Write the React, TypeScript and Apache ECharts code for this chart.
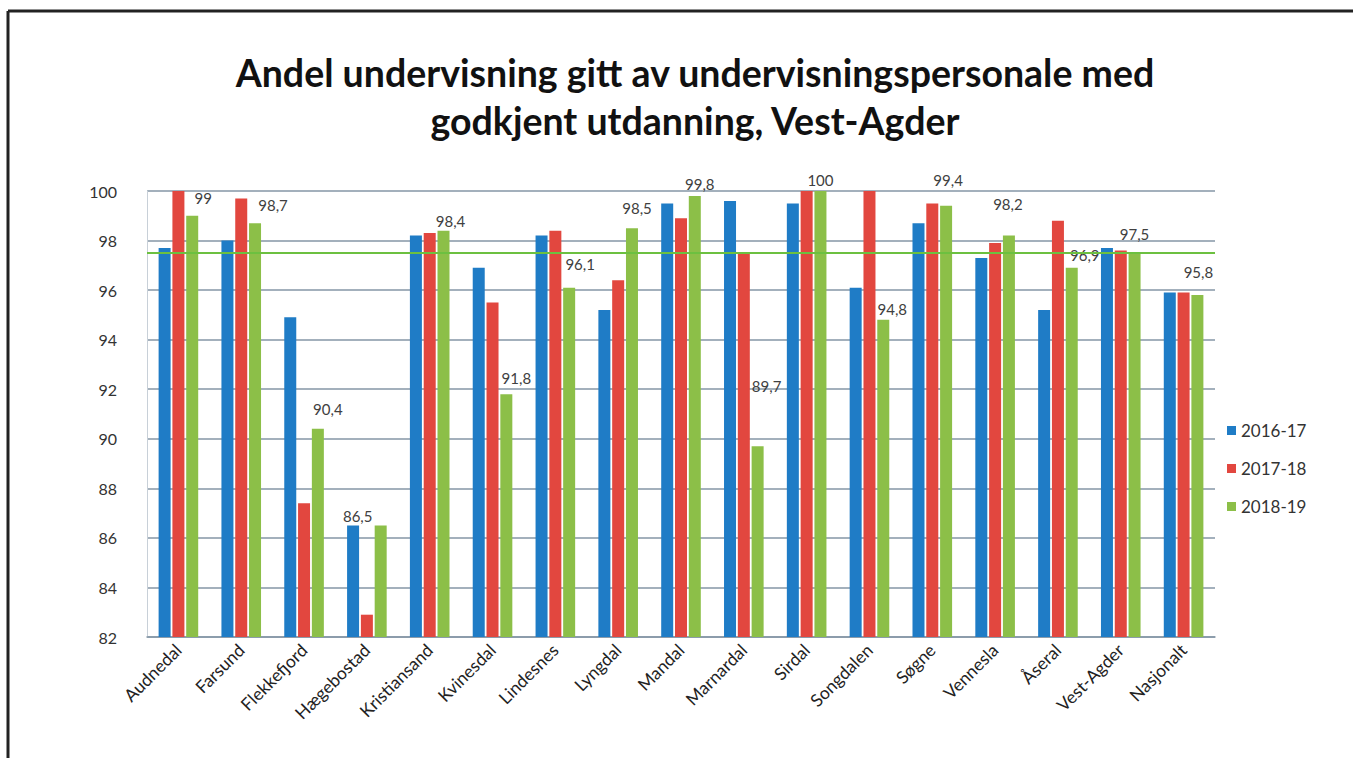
import React, { useEffect, useRef } from "react";
import * as echarts from "echarts";

const categories = [
  "Audnedal", "Farsund", "Flekkefjord", "Hægebostad", "Kristiansand", "Kvinesdal",
  "Lindesnes", "Lyngdal", "Mandal", "Marnardal", "Sirdal", "Songdalen", "Søgne",
  "Vennesla", "Åseral", "Vest-Agder", "Nasjonalt",
];
const seriesNames = ["2016-17", "2017-18", "2018-19"];
const s2016 = [97.7, 98.0, 94.9, 86.5, 98.2, 96.9, 98.2, 95.2, 99.5, 99.6, 99.5, 96.1, 98.7, 97.3, 95.2, 97.7, 95.9];
const s2017 = [100, 99.7, 87.4, 82.9, 98.3, 95.5, 98.4, 96.4, 98.9, 97.5, 100, 100, 99.5, 97.9, 98.8, 97.6, 95.9];
const s2018 = [99, 98.7, 90.4, 86.5, 98.4, 91.8, 96.1, 98.5, 99.8, 89.7, 100, 94.8, 99.4, 98.2, 96.9, 97.5, 95.8];
const referenceValue = 97.5;
const yTicks = { min: 82, max: 100, interval: 2 };

// label nudges (style only), [dx, dy] in px
const labelNudges: [number, number][] = [
  [11, -5], [18, -6], [10, -7], [-23, 3], [7, 3], [10, -4], [11, -11], [5, -8],
  [5, 1], [9, -48], [0, 1], [9, 2], [2, -13], [-1, -19], [13, 0], [0, -6], [1, -11],
];

const colors = ["#1f7cc6", "#e2473f", "#8cbf48"];
const FONT = "Lato, 'Open Sans', sans-serif";

export default function App() {
  const ref = useRef<HTMLDivElement>(null);
  useEffect(() => {
    if (!ref.current) return;
    const chart = echarts.init(ref.current, null, { renderer: "svg" });
    const fmt = (v: number) => String(v).replace(".", ",");
    const option: any = {
      animation: false,
      backgroundColor: "#ffffff",
      textStyle: { fontFamily: FONT },
      graphic: [
        { type: "line", shape: { x1: 8, y1: 11, x2: 1360, y2: 11 }, style: { stroke: "#222", lineWidth: 3 } },
        { type: "line", shape: { x1: 8, y1: 11, x2: 8, y2: 770 }, style: { stroke: "#222", lineWidth: 3 } },
        {
          type: "text",
          x: 695,
          y: 48,
          style: {
            text: "Andel undervisning gitt av undervisningspersonale med\ngodkjent utdanning, Vest-Agder",
            textAlign: "center",
            font: `bold 37.5px ${FONT}`,
            lineHeight: 48,
            fill: "#111",
          },
        },
      ],
      legend: {
        orient: "vertical",
        left: 1222,
        top: 417,
        itemWidth: 9,
        itemHeight: 9,
        itemGap: 21,
        icon: "rect",
        data: seriesNames,
        textStyle: { fontSize: 17, color: "#333", fontFamily: FONT },
      },
      grid: { left: 147, right: 138, top: 191, bottom: 121 },
      xAxis: {
        type: "category",
        data: categories,
        axisTick: { show: false },
        axisLine: { lineStyle: { color: "#8596a6", width: 1.5 } },
        axisLabel: { rotate: 45, fontSize: 17.5, color: "#222", margin: 10, interval: 0, fontFamily: FONT },
      },
      yAxis: {
        type: "value",
        min: yTicks.min,
        max: yTicks.max,
        interval: yTicks.interval,
        axisLine: { show: true, lineStyle: { color: "#c8d0d8", width: 1 } },
        axisTick: { show: false },
        axisLabel: { fontSize: 16, color: "#333", margin: 30, fontFamily: FONT },
        splitLine: { lineStyle: { color: "#8596a6", width: 1.5 } },
      },
      series: [
        {
          name: seriesNames[0],
          type: "bar",
          data: s2016,
          barWidth: 12,
          barGap: "15%",
          itemStyle: { color: colors[0] },
        },
        {
          name: seriesNames[1],
          type: "bar",
          data: s2017,
          barWidth: 12,
          barGap: "15%",
          itemStyle: { color: colors[1] },
        },
        {
          name: seriesNames[2],
          type: "bar",
          data: s2018.map((v, i) => ({
            value: v,
            label: { offset: labelNudges[i] },
          })),
          barWidth: 12,
          barGap: "15%",
          itemStyle: { color: colors[2] },
          label: {
            show: true,
            position: "top",
            fontSize: 15,
            color: "#404040",
            fontFamily: FONT,
            formatter: (p: any) => fmt(p.value),
          },
          markLine: {
            silent: true,
            symbol: ["none", "none"],
            label: { show: false },
            lineStyle: { color: "#6cc040", width: 2, type: "solid" },
            data: [{ yAxis: referenceValue }],
          },
          z: 3,
        },
      ],
    };
    chart.setOption(option);
    return () => chart.dispose();
  }, []);
  return (
    <div
      ref={ref}
      style={{ position: "fixed", left: 0, top: 0, width: 1353, height: 758 }}
    />
  );
}
